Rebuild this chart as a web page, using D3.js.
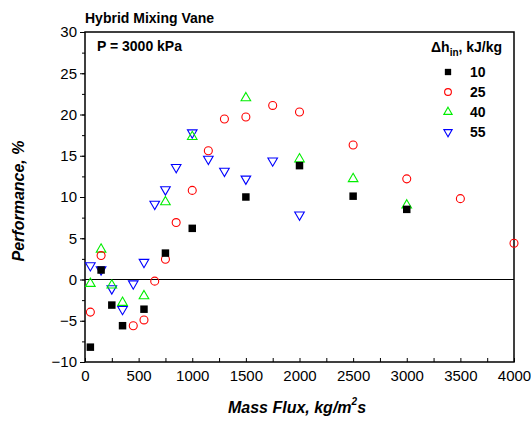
<!DOCTYPE html>
<html><head><meta charset="utf-8">
<script src="https://cdn.jsdelivr.net/npm/d3@7"></script>
<style>body{margin:0;background:#fff}svg{display:block;font-family:"Liberation Sans",Arial,sans-serif}</style>
</head><body><svg id="c" width="531" height="423"></svg>
<script>
const s10x = [50,150,250,350,550,750,1000,1500,2000,2500,3000];
const s10y = [-8.2,1.15,-3.1,-5.6,-3.6,3.2,6.2,10.0,13.8,10.1,8.5];
const s25x = [50,150,450,550,650,750,850,1000,1150,1300,1500,1750,2000,2500,3000,3500,4000];
const s25y = [-3.95,2.9,-5.6,-4.9,-0.2,2.45,6.9,10.8,15.6,19.45,19.7,21.1,20.3,16.3,12.2,9.8,4.4];
const s40x = [50,150,250,350,550,750,1000,1500,2000,2500,3000];
const s40y = [-0.5,3.65,-0.7,-2.8,-2.0,9.4,17.3,22.0,14.6,12.2,9.0];
const s55x = [50,150,250,350,450,550,650,750,850,1000,1150,1300,1500,1750,2000];
const s55y = [1.7,1.2,-1.1,-3.6,-0.5,2.1,9.15,10.9,13.6,17.8,14.6,13.15,12.2,14.4,7.85];
const seriesNames = ["10","25","40","55"];
const xTickLabels = [0,500,1000,1500,2000,2500,3000,3500,4000];
const yTickLabels = [-10,-5,0,5,10,15,20,25,30];

const svg = d3.select("#c");
const L=85,R=514,T=32,B=362;
const x = d3.scaleLinear().domain([0,4000]).range([L,R]);
const y = d3.scaleLinear().domain([-10,30]).range([B,T]);

const yMinor = d3.range(-10,30.01,2.5);
svg.append("g").attr("transform",`translate(${L},0)`)
  .call(d3.axisLeft(y).tickValues(yMinor).tickSize(3).tickFormat(""))
  .call(g=>g.select(".domain").remove()).selectAll("line").attr("stroke","#000");
svg.append("g").attr("transform",`translate(${L},0)`)
  .call(d3.axisLeft(y).tickValues(yTickLabels).tickSize(5).tickPadding(3).tickFormat(d3.format("d")))
  .call(g=>g.select(".domain").remove())
  .call(g=>g.selectAll("text").attr("font-size",15).attr("fill","#000").attr("font-family","Liberation Sans, Arial"))
  .selectAll("line").attr("stroke","#000");
const xMinor = d3.range(0,4001,250);
svg.append("g").attr("transform",`translate(0,${B})`)
  .call(d3.axisBottom(x).tickValues(xMinor).tickSize(-4).tickFormat(""))
  .call(g=>g.select(".domain").remove()).selectAll("line").attr("stroke","#000");
svg.append("g").attr("transform",`translate(0,${B})`)
  .call(d3.axisBottom(x).tickValues(xTickLabels).tickSize(0).tickPadding(8).tickFormat(d3.format("d")))
  .call(g=>g.select(".domain").remove())
  .call(g=>g.selectAll("text").attr("font-size",15).attr("fill","#000").attr("font-family","Liberation Sans, Arial"));

svg.append("rect").attr("x",L).attr("y",T).attr("width",R-L).attr("height",B-T)
  .attr("fill","none").attr("stroke","#000").attr("stroke-width",1.5);
svg.append("line").attr("x1",L).attr("x2",R).attr("y1",y(0)).attr("y2",y(0)).attr("stroke","#000").attr("stroke-width",1.2);

const sq = d3.symbol().type(d3.symbolSquare).size(56);
const ci = d3.symbol().type(d3.symbolCircle).size(50);
const tri = d3.symbol().type(d3.symbolTriangle).size(40);
function drawSeries(xs,ys,kind){
  const g = svg.append("g");
  xs.forEach((xv,i)=>{
    const p = g.append("path").attr("transform",`translate(${x(xv)},${y(ys[i])})`);
    styleMark(p,kind);
  });
}
function styleMark(p,kind){
  if(kind===0) p.attr("d",sq).attr("fill","#000");
  if(kind===1) p.attr("d",ci).attr("fill","none").attr("stroke","#ff0000").attr("stroke-width",1.1);
  if(kind===2) p.attr("d",tri).attr("fill","none").attr("stroke","#00ee00").attr("stroke-width",1.1);
  if(kind===3) p.attr("d",tri).attr("fill","none").attr("stroke","#0000ff").attr("stroke-width",1.1)
                .attr("transform",p.attr("transform")+" rotate(180)");
}
drawSeries(s55x,s55y,3);
drawSeries(s40x,s40y,2);
drawSeries(s25x,s25y,1);
drawSeries(s10x,s10y,0);

svg.append("text").attr("x",85).attr("y",23).attr("font-size",14).attr("font-weight","bold").text("Hybrid Mixing Vane");
svg.append("text").attr("x",97).attr("y",51).attr("font-size",14).attr("font-weight","bold").text("P = 3000 kPa");

const lt = svg.append("text").attr("x",431).attr("y",52).attr("font-size",14).attr("font-weight","bold");
lt.append("tspan").text("Δh");
lt.append("tspan").attr("font-size",10).attr("dy",4).text("in");
lt.append("tspan").attr("dy",-4).text(", kJ/kg");
seriesNames.forEach((n,i)=>{
  const yy = 72+i*20;
  const p = svg.append("path").attr("transform",`translate(448,${yy})`);
  styleMark(p,i);
  if(i===0) p.attr("d",d3.symbol().type(d3.symbolSquare).size(40));
  if(i===1) p.attr("d",d3.symbol().type(d3.symbolCircle).size(36));
  if(i>=2) p.attr("d",d3.symbol().type(d3.symbolTriangle).size(30));
  svg.append("text").attr("x",470).attr("y",yy+5).attr("font-size",14).attr("font-weight","bold").text(n);
});

const xt = svg.append("text").attr("x",297).attr("y",413).attr("text-anchor","middle")
  .attr("font-size",16).attr("font-weight","bold").attr("font-style","italic");
xt.append("tspan").text("Mass Flux, kg/m");
xt.append("tspan").attr("font-size",10).attr("dy",-8).text("2");
xt.append("tspan").attr("dy",8).text("s");
svg.append("text").attr("transform","translate(24,201) rotate(-90)").attr("text-anchor","middle")
  .attr("font-size",16).attr("font-weight","bold").attr("font-style","italic").text("Performance, %");
</script></body></html>
